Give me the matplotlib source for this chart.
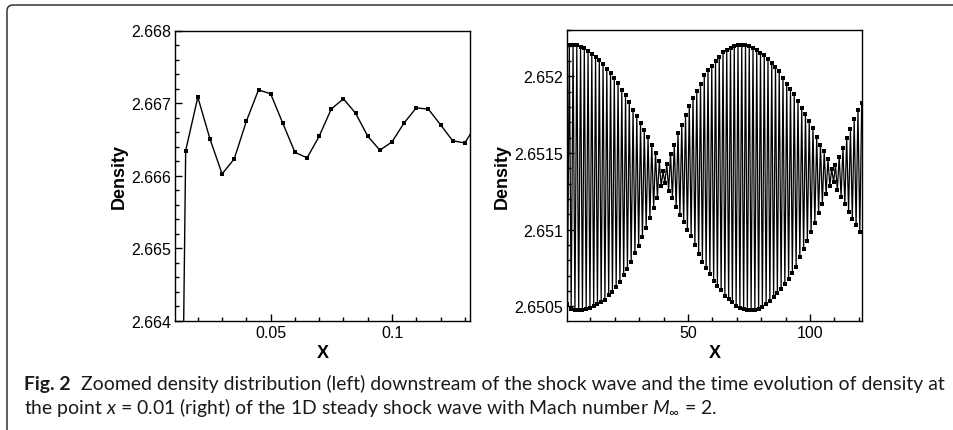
import numpy as np
import matplotlib.pyplot as plt
from matplotlib.ticker import MultipleLocator, FuncFormatter
from matplotlib.patches import FancyBboxPatch
from matplotlib.transforms import IdentityTransform

plt.rcParams['font.family'] = ['Liberation Sans', 'DejaVu Sans']
plt.rcParams['mathtext.fontset'] = 'custom'
plt.rcParams['mathtext.rm'] = 'Lato'
plt.rcParams['mathtext.it'] = 'Lato:italic'

# left: zoomed density downstream of the shock
x_left = [0.010, 0.015, 0.020, 0.025, 0.030, 0.035, 0.040, 0.045, 0.050, 0.055,
          0.060, 0.065, 0.070, 0.075, 0.080, 0.085, 0.090, 0.095, 0.100, 0.105,
          0.110, 0.115, 0.120, 0.125, 0.130, 0.135]
rho_left = [2.652000, 2.666345, 2.667081, 2.666506, 2.666023, 2.666230, 2.666750, 2.667182,
            2.667127, 2.666722, 2.666322, 2.666244, 2.666543, 2.666920, 2.667058, 2.666860,
            2.666543, 2.666350, 2.666465, 2.666727, 2.666934, 2.666915, 2.666700, 2.666480,
            2.666450, 2.666720]

# right: density at x = 0.01 over time
t_first, t_last = 0.58, 121.2
rho_right = [
    2.650515, 2.652206, 2.650483, 2.652206, 2.650477, 2.652201, 2.650476, 2.652190, 2.650479, 2.652183,
    2.650485, 2.652165, 2.650490, 2.652145, 2.650499, 2.652123, 2.650512, 2.652105, 2.650526, 2.652078,
    2.650543, 2.652047, 2.650571, 2.652023, 2.650596, 2.651989, 2.650627, 2.651956, 2.650659, 2.651912,
    2.650704, 2.651875, 2.650741, 2.651834, 2.650792, 2.651783, 2.650847, 2.651742, 2.650896, 2.651696,
    2.650949, 2.651650, 2.651012, 2.651601, 2.651075, 2.651552, 2.651140, 2.651501, 2.651207, 2.651449,
    2.651286, 2.651380, 2.651305, 2.651428, 2.651255, 2.651495, 2.651205, 2.651555, 2.651150, 2.651630,
    2.651095, 2.651684, 2.651050, 2.651749, 2.651000, 2.651806, 2.650960, 2.651860, 2.650900, 2.651902,
    2.650842, 2.651950, 2.650788, 2.652006, 2.650750, 2.652039, 2.650710, 2.652067, 2.650668, 2.652100,
    2.650634, 2.652129, 2.650604, 2.652157, 2.650569, 2.652173, 2.650549, 2.652185, 2.650526, 2.652196,
    2.650505, 2.652204, 2.650489, 2.652206, 2.650481, 2.652204, 2.650476, 2.652195, 2.650476, 2.652182,
    2.650476, 2.652171, 2.650482, 2.652153, 2.650497, 2.652139, 2.650515, 2.652113, 2.650535, 2.652090,
    2.650562, 2.652062, 2.650588, 2.652035, 2.650616, 2.651989, 2.650645, 2.651953, 2.650678, 2.651914,
    2.650720, 2.651883, 2.650759, 2.651840, 2.650820, 2.651796, 2.650873, 2.651753, 2.650924, 2.651707,
    2.650986, 2.651663, 2.651045, 2.651604, 2.651107, 2.651555, 2.651168, 2.651510, 2.651230, 2.651460,
    2.651285, 2.651395, 2.651310, 2.651420, 2.651260, 2.651475, 2.651215, 2.651535, 2.651165, 2.651596,
    2.651118, 2.651654, 2.651070, 2.651723, 2.651030, 2.651780, 2.650985, 2.651824,
]
t_right = np.linspace(t_first, t_last, len(rho_right))

W, H = 954, 431
fig = plt.figure(figsize=(W / 100, H / 100), dpi=100)

# rounded frame (right and bottom edges run off the picture)
frame = FancyBboxPatch((7, -60), 1100, H - 6 + 60, boxstyle='round,pad=0,rounding_size=6',
                       transform=IdentityTransform(), fill=False, edgecolor='#333333', lw=1.1)
fig.patches.append(frame)

ax1 = fig.add_axes([175 / W, 1 - 321.7 / H, 294.7 / W, 290.2 / H])
ax2 = fig.add_axes([567 / W, 1 - 321.7 / H, 294.7 / W, 291.0 / H])

ax1.plot(x_left, rho_left, '-s', color='k', lw=1.0, ms=2.6, mew=0)
ax1.set_xlim(0.0106, 0.132)
ax1.set_ylim(2.664, 2.668)
ax1.xaxis.set_major_locator(MultipleLocator(0.05))
ax1.xaxis.set_minor_locator(MultipleLocator(0.01))
ax1.yaxis.set_major_locator(MultipleLocator(0.001))
ax1.yaxis.set_minor_locator(MultipleLocator(0.0002))

ax2.plot(t_right, rho_right, '-s', color='k', lw=0.9, ms=2.4, mew=0)
ax2.set_xlim(0.4, 121.2)
ax2.set_ylim(2.650406, 2.652304)
ax2.xaxis.set_major_locator(MultipleLocator(50))
ax2.xaxis.set_minor_locator(MultipleLocator(10))
ax2.yaxis.set_major_locator(MultipleLocator(0.0005))
ax2.yaxis.set_minor_locator(MultipleLocator(0.0001))

fmt = FuncFormatter(lambda v, p: '{:g}'.format(round(v, 6)))
for ax in (ax1, ax2):
    ax.xaxis.set_major_formatter(fmt)
    ax.yaxis.set_major_formatter(fmt)
    ax.tick_params(which='both', direction='in', top=False, right=False,
                   labelsize=11.5, width=1.0, pad=3)
    ax.tick_params(which='major', length=5)
    ax.tick_params(which='minor', length=3)
    for s in ax.spines.values():
        s.set_linewidth(1.0)
    ax.set_xlabel('X', fontsize=13, fontweight='bold', labelpad=3)
    ax.set_ylabel('Density', fontsize=13, fontweight='bold')

ax1.yaxis.set_label_coords(-0.16, 0.5)
ax2.yaxis.set_label_coords(-0.19, 0.5)

# caption
renderer = fig.canvas.get_renderer()
line1 = [('Fig. 2', 'bold'), ('  Zoomed density distribution (left) downstream of the shock wave '
                              'and the time evolution of density at', 'normal')]
line2 = [(r'the point $x$ = 0.01 (right) of the 1D steady shock wave with Mach number $M_\infty$ = 2.', 'normal')]


def put_line(parts, x0, y, size):
    x = x0
    for txt, wt in parts:
        t = fig.text(x / W, y, txt, fontsize=size, fontweight=wt, family='Lato',
                     va='baseline', ha='left', color='#1a1a1a')
        x += t.get_window_extent(renderer).width
    return x - x0


caption_size = 12.5
probe = [fig.text(0, 0, p[0], fontsize=caption_size, fontweight=p[1], family='Lato') for p in line1]
width = sum(p.get_window_extent(renderer).width for p in probe)
for p in probe:
    p.remove()
caption_size *= 924 / width

put_line(line1, 24, 1 - 390 / H, caption_size)
put_line(line2, 24, 1 - 414 / H, caption_size)

fig.savefig('out.png', dpi=100)
